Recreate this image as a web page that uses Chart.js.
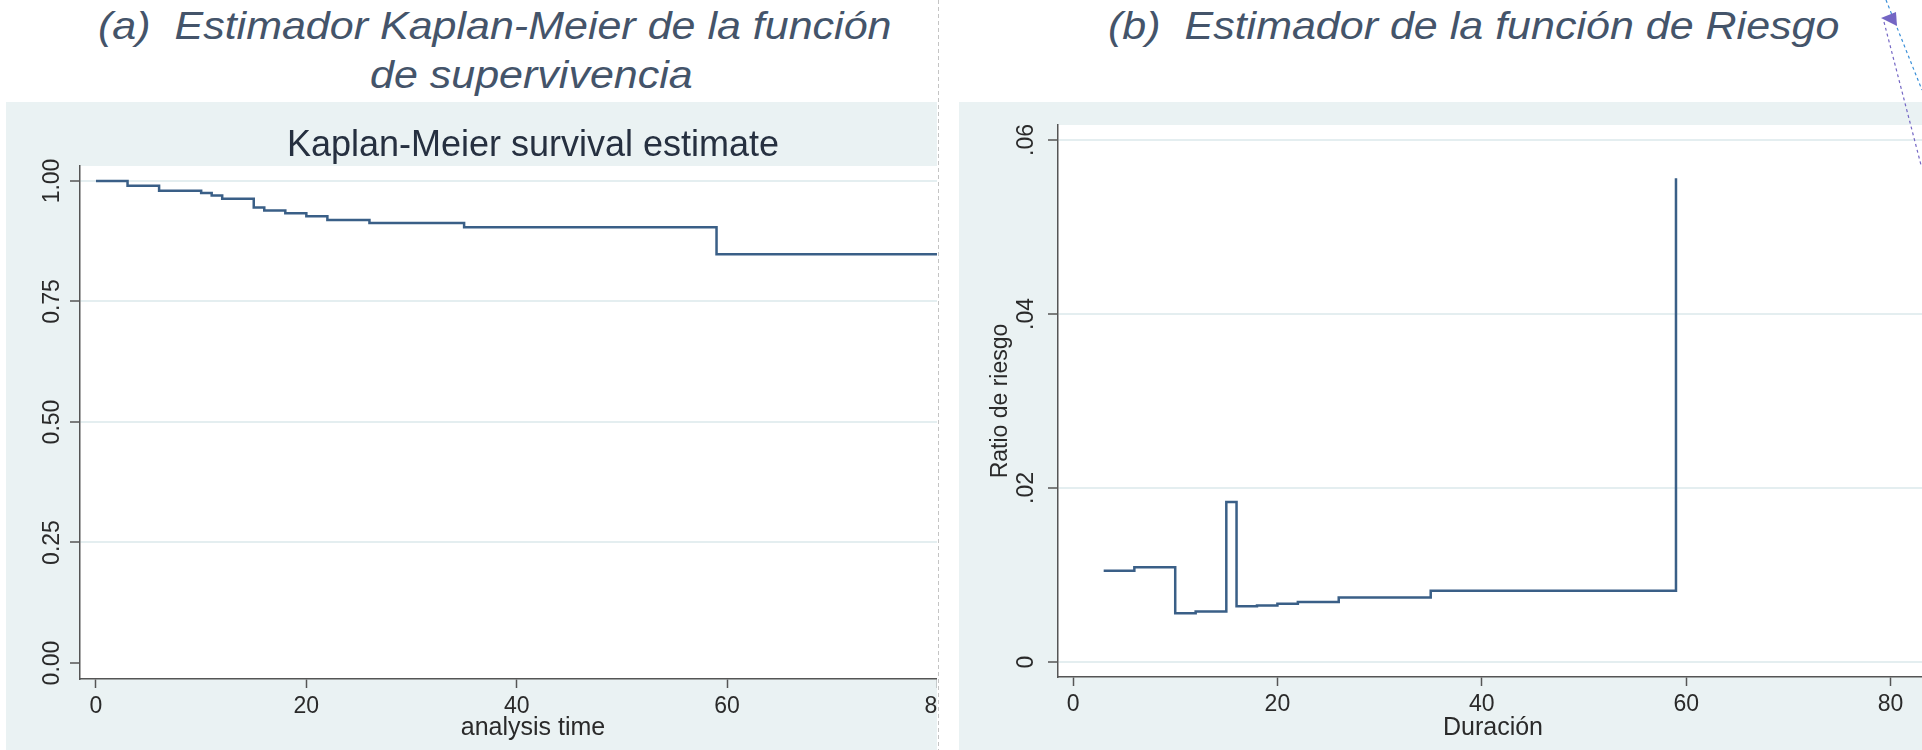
<!DOCTYPE html>
<html>
<head>
<meta charset="utf-8">
<script src="https://cdn.jsdelivr.net/npm/chart.js@4/dist/chart.umd.min.js"></script>
<style>
  html, body { margin: 0; padding: 0; background: #fff; }
  body { width: 1922px; height: 750px; position: relative; overflow: hidden; font-family: 'Liberation Sans', Arial, sans-serif; }
  .head { position: absolute; white-space: pre; font-style: italic; color: #44546a; transform-origin: 0 0; transform: scaleY(0.9); font-size: 43px; line-height: 43px; }
  .panel { position: absolute; top: 102px; height: 648px; background: #eaf2f3; overflow: hidden; }
  .panel .box { position: absolute; left: 0; top: 0; width: 1000px; height: 648px; }
  svg { position: absolute; left: 0; top: 0; pointer-events: none; }
</style>
</head>
<body>
<div class="head" style="left:98px;top:6.5px">(a)  Estimador Kaplan-Meier de la función</div>
<div class="head" style="left:370px;top:55.5px">de supervivencia</div>
<div class="head" style="left:1108px;top:6.5px">(b)  Estimador de la función de Riesgo</div>

<div class="panel" style="left:6px;width:931px"><div class="box"><canvas id="km"></canvas></div></div>
<div class="panel" style="left:959px;width:963px"><div class="box"><canvas id="hz"></canvas></div></div>

<svg width="1922" height="750">
  <line x1="938.5" y1="0" x2="938.5" y2="750" stroke="#c4c4c4" stroke-width="1" stroke-dasharray="4 3"/>
  <line x1="1886" y1="0" x2="1922" y2="90" stroke="#3a8fd8" stroke-width="1.2" stroke-dasharray="3 3"/>
  <line x1="1884" y1="22" x2="1921" y2="165" stroke="#7466c4" stroke-width="1.2" stroke-dasharray="3 3"/>
  <polygon points="1881,18 1896,12 1897,26" fill="#7466c4"/>
</svg>

<script>
// Kaplan-Meier survival estimate
const KM_TIME = [0, 3, 6, 10, 11, 12, 15, 16, 18, 20, 22, 26, 35, 59, 84];
const KM_SURV = [1.000, 0.990, 0.980, 0.975, 0.970, 0.963, 0.945, 0.939, 0.933, 0.927, 0.919, 0.913, 0.904, 0.848, 0.848];

// hazard (ratio de riesgo)
const HZ_TIME = [3, 6, 10, 12, 15, 16, 18, 20, 22, 26, 35, 59];
const HZ_RATE = [0.0105, 0.0109, 0.0056, 0.0058, 0.0184, 0.0064, 0.0065, 0.0067, 0.0069, 0.0074, 0.0082, 0.0556];

const X_TICKS = [0, 20, 40, 60, 80];
const KM_Y_TICKS = [0, 0.25, 0.5, 0.75, 1];
const KM_Y_LABELS = ['0.00', '0.25', '0.50', '0.75', '1.00'];
const HZ_Y_TICKS = [0, 0.02, 0.04, 0.06];
const HZ_Y_LABELS = ['0', '.02', '.04', '.06'];

const FONT = "'Liberation Sans', Arial, sans-serif";
const LINE = '#3a5f87';
const AXIS = '#555';
const GRID = '#e4eef0';
const TXT = '#2a2a2a';

Chart.defaults.font.family = FONT;

const tickFont = { family: FONT, size: 23 };
const titleFont = { family: FONT, size: 25 };

// stata-like white plot region inside the blue-grey graph region
const whiteArea = {
  id: 'whiteArea',
  beforeDraw(chart) {
    const { ctx, chartArea: a } = chart;
    ctx.save();
    ctx.fillStyle = '#fff';
    ctx.fillRect(a.left, a.top, a.right - a.left, a.bottom - a.top);
    ctx.restore();
  }
};

function xAxis(min, max, height, pad, title, titlePad) {
  return {
    type: 'linear', min, max,
    afterBuildTicks: s => { s.ticks = X_TICKS.map(v => ({ value: v })); },
    afterFit: s => { s.height = height; },
    grid: { drawOnChartArea: false, tickLength: 9, tickColor: AXIS, tickWidth: 1.5 },
    border: { color: AXIS, width: 1.5 },
    ticks: { color: TXT, font: tickFont, padding: pad, maxRotation: 0, autoSkip: false },
    title: { display: true, text: title, color: TXT, font: titleFont, padding: { top: 0, bottom: titlePad } }
  };
}

function yAxis(min, max, width, pad, vals, labels, hideZeroGrid) {
  return {
    min, max,
    afterBuildTicks: s => { s.ticks = vals.map(v => ({ value: v })); },
    afterFit: s => { s.width = width; },
    grid: {
      color: c => (hideZeroGrid && c.tick && c.tick.value === 0) ? 'rgba(0,0,0,0)' : GRID,
      lineWidth: 2, tickLength: 10, tickColor: AXIS, tickWidth: 1.5
    },
    border: { color: AXIS, width: 1.5 },
    ticks: {
      color: TXT, font: tickFont, padding: pad, autoSkip: false,
      minRotation: 90, maxRotation: 90, crossAlign: 'center',
      callback: v => labels[vals.indexOf(v)]
    }
  };
}

new Chart(document.getElementById('km'), {
  type: 'line',
  data: {
    datasets: [{
      data: KM_TIME.map((t, i) => ({ x: t, y: KM_SURV[i] })),
      stepped: true, borderColor: LINE, borderWidth: 2.5, pointRadius: 0, fill: false
    }]
  },
  options: {
    responsive: true, maintainAspectRatio: false, animation: false,
    layout: { padding: { top: 0, right: 20, bottom: 0, left: 0 } },
    plugins: {
      legend: { display: false }, tooltip: { enabled: false },
      title: {
        display: true, text: 'Kaplan-Meier survival estimate', fullSize: false,
        color: '#263040', font: { family: FONT, size: 36, weight: 'normal', lineHeight: 1 },
        padding: { top: 26, bottom: 2 }
      }
    },
    scales: {
      x: xAxis(-1.52, 84.62, 71, 4.5, 'analysis time', 7),
      y: yAxis(-0.0332, 1.0311, 74, -5.4, KM_Y_TICKS, KM_Y_LABELS, true)
    }
  },
  plugins: [whiteArea]
});

const hzY = yAxis(-0.001724, 0.061724, 99, 5.5, HZ_Y_TICKS, HZ_Y_LABELS, false);
hzY.title = { display: true, text: 'Ratio de riesgo', color: TXT, font: tickFont, padding: { top: 28, bottom: 0 } };

new Chart(document.getElementById('hz'), {
  type: 'line',
  data: {
    datasets: [{
      data: HZ_TIME.map((t, i) => ({ x: t, y: HZ_RATE[i] })),
      stepped: true, borderColor: LINE, borderWidth: 2.5, pointRadius: 0, fill: false
    }]
  },
  options: {
    responsive: true, maintainAspectRatio: false, animation: false,
    layout: { padding: { top: 23, right: 31, bottom: 0, left: 0 } },
    plugins: { legend: { display: false }, tooltip: { enabled: false }, title: { display: false } },
    scales: {
      x: xAxis(-1.47, 83.66, 73, 5, 'Duración', 7),
      y: hzY
    }
  },
  plugins: [whiteArea]
});
</script>
</body>
</html>
